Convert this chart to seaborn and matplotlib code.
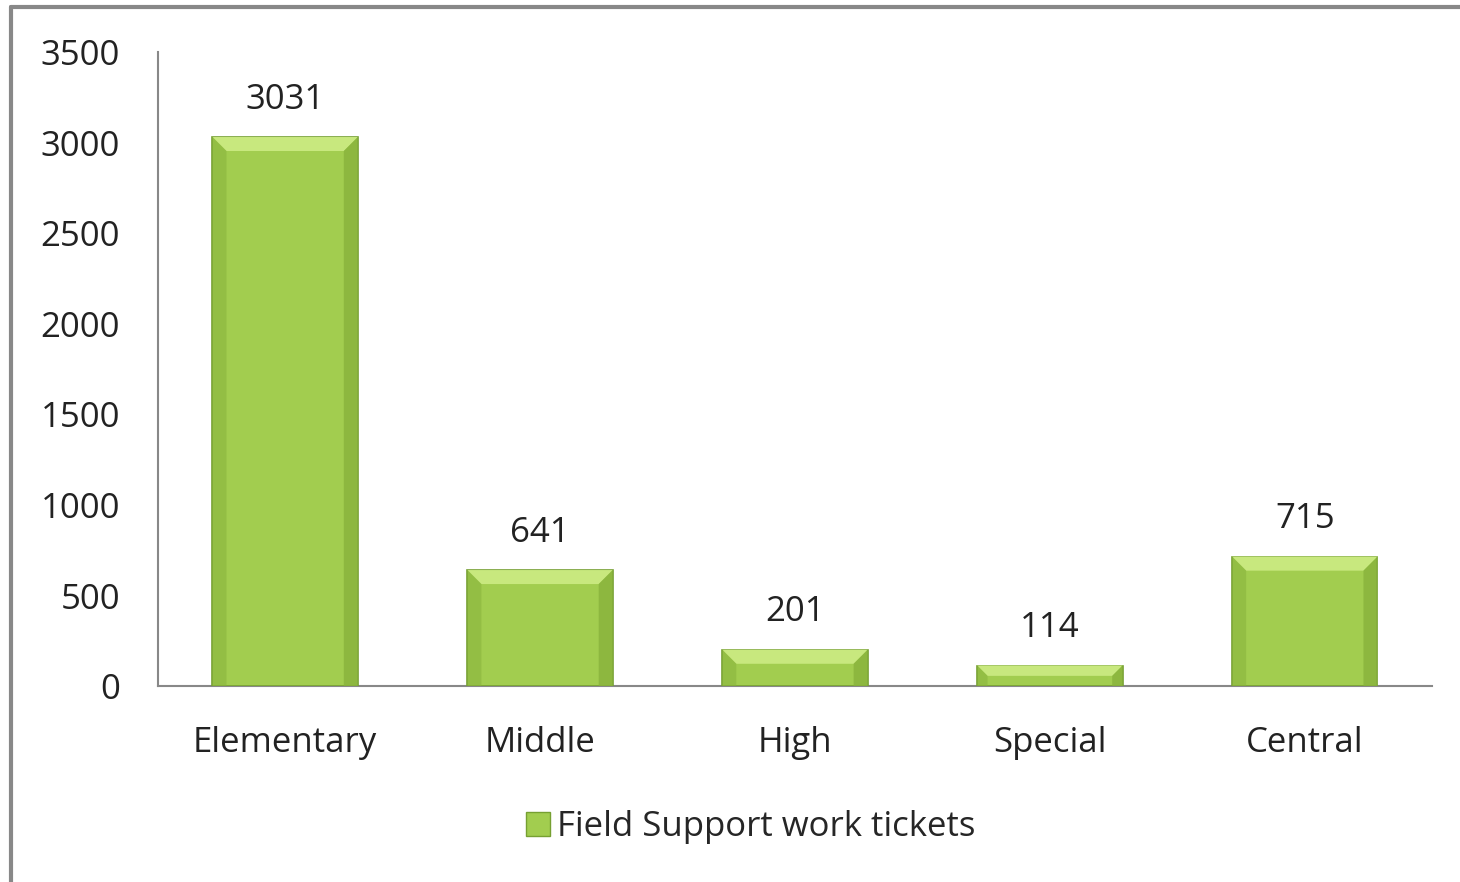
import matplotlib
matplotlib.use("Agg")
import matplotlib.pyplot as plt
import matplotlib.patches as mpatches
from matplotlib.lines import Line2D
import pandas as pd
import seaborn as sns

categories = ["Elementary", "Middle", "High", "Special", "Central"]
tickets = [3031, 641, 201, 114, 715]
series_name = "Field Support work tickets"
yticks = [0, 500, 1000, 1500, 2000, 2500, 3000, 3500]

df = pd.DataFrame({"school": categories, "tickets": tickets})

sns.set_style("white")
plt.rcParams["font.family"] = ["Open Sans", "DejaVu Sans"]

BAR = "#a2cd4f"
EDGE = "#76a032"
TOP = "#c8e87e"
SIDE = "#88b23c"
FS = 25

fig = plt.figure(figsize=(14.6, 8.82), dpi=100)
ax = fig.add_axes([0.108, 0.222, 0.873, 0.719])

sns.barplot(data=df, x="school", y="tickets", ax=ax, color=BAR, width=0.57,
            saturation=1, edgecolor=EDGE, linewidth=1.2, zorder=3)

ax.set_ylim(0, 3500)
ax.set_xlim(-0.5, len(categories) - 0.5)

# bevel look: light top, darker sides (sizes in pixels, converted to data units)
ax_w = 0.873 * 1460
ax_h = 0.719 * 882
px_x = len(categories) / ax_w
px_y = 3500 / ax_h
bev = 14
for p in list(ax.patches):
    x0, w, h = p.get_x(), p.get_width(), p.get_height()
    x1 = x0 + w
    by = min(bev * px_y, h / 2)
    bx = min(bev * px_x, by / px_y * px_x)
    top = mpatches.Polygon([(x0, h), (x1, h), (x1 - bx, h - by), (x0 + bx, h - by)],
                           facecolor=TOP, edgecolor="none", zorder=4)
    left = mpatches.Polygon([(x0, 0), (x0, h), (x0 + bx, h - by), (x0 + bx, 0)],
                            facecolor=SIDE, edgecolor="none", alpha=0.55, zorder=4)
    right = mpatches.Polygon([(x1, 0), (x1, h), (x1 - bx, h - by), (x1 - bx, 0)],
                             facecolor=SIDE, edgecolor="none", alpha=0.8, zorder=4)
    for poly in (top, left, right):
        ax.add_patch(poly)

for i, v in enumerate(tickets):
    ax.annotate(str(v), (i, v), xytext=(0, 27), textcoords="offset points",
                ha="center", va="center", fontsize=FS, color="#222222")

ax.set_yticks(yticks)
ax.set_xlabel("")
ax.set_ylabel("")
ax.tick_params(axis="y", labelsize=FS, length=0, pad=27, colors="#222222")
ax.tick_params(axis="x", labelsize=FS, length=0, pad=29, colors="#222222")
for s in ["top", "right"]:
    ax.spines[s].set_visible(False)
for s in ["left", "bottom"]:
    ax.spines[s].set_color("#888888")
    ax.spines[s].set_linewidth(1.5)

handle = mpatches.Patch(facecolor=BAR, edgecolor=EDGE, label=series_name)
fig.legend(handles=[handle], loc="center", bbox_to_anchor=(0.514, 0.062), frameon=False,
           fontsize=FS, handlelength=0.7, handleheight=0.7, handletextpad=0.2)

# chart frame (only top and left visible)
fig.add_artist(Line2D([0.0075, 1.0], [0.9915, 0.9915], color="#888888", lw=3))
fig.add_artist(Line2D([0.0075, 0.0075], [0.0, 0.9915], color="#888888", lw=3))

fig.savefig("out.png", dpi=100)
